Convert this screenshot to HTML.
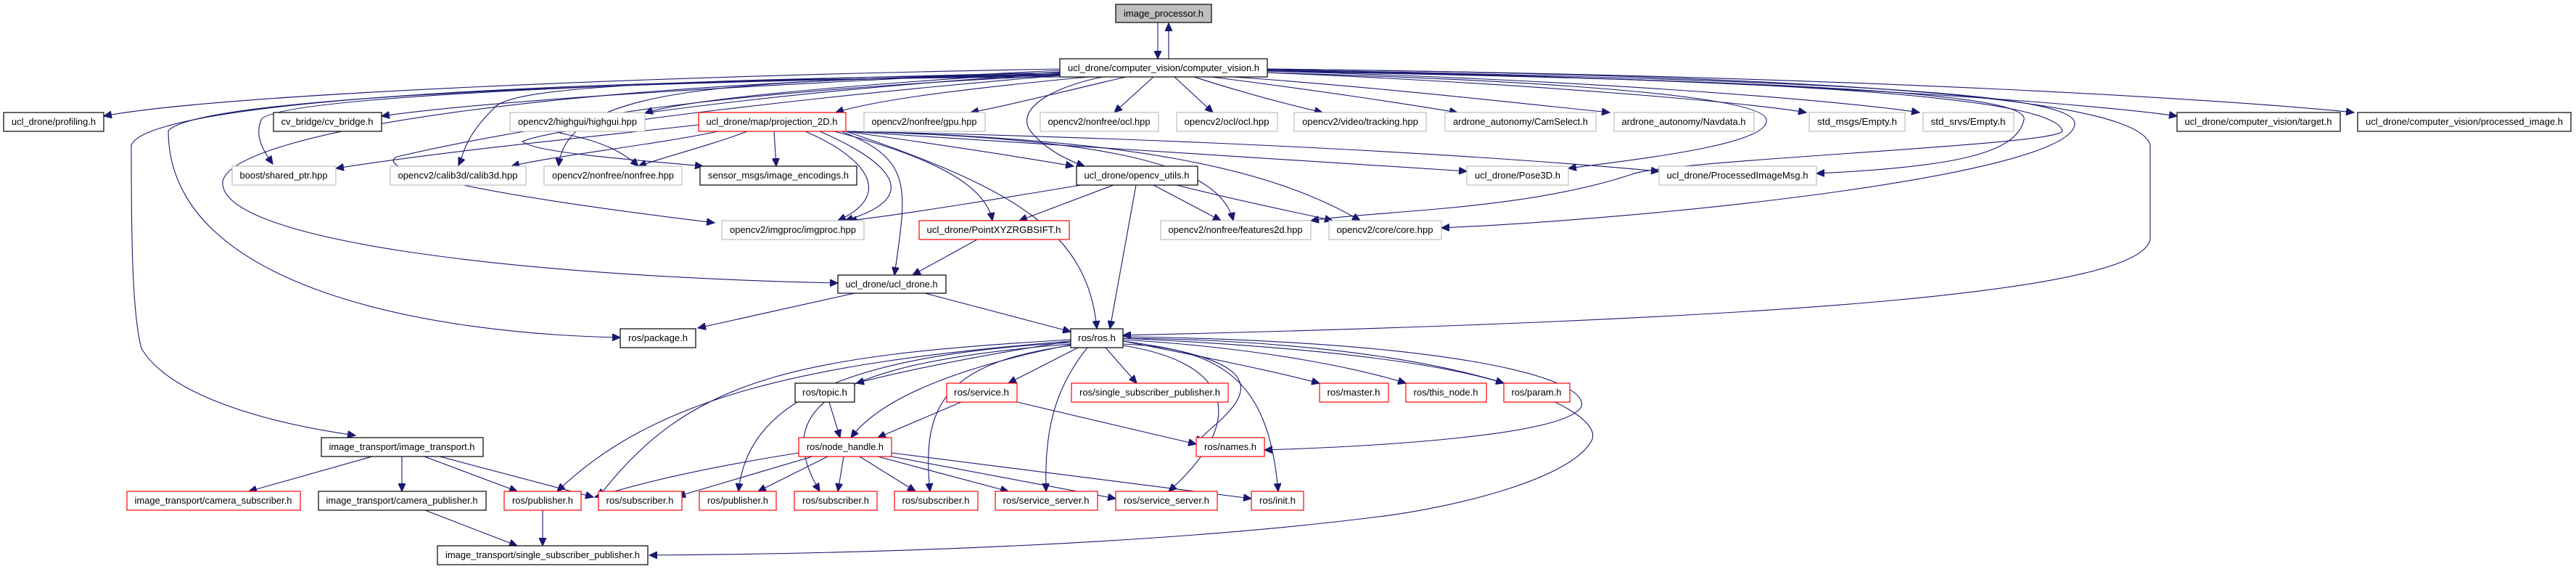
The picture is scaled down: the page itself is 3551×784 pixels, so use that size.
<!DOCTYPE html>
<html><head><meta charset="utf-8"><style>
html,body{margin:0;padding:0;background:#fff;}
svg{display:block;}
text{font-family:"Liberation Sans Narrow","Liberation Sans",sans-serif;font-size:13px;fill:#000;}
.b{fill:#fff;stroke:#000;stroke-width:1.2}
.g{fill:#fff;stroke:#bfbfbf;stroke-width:1.2}
.r{fill:#fff;stroke:#ff0000;stroke-width:1.2}
.f{fill:#bfbfbf;stroke:#000;stroke-width:1.2}
path{fill:none;stroke:#191970;stroke-width:1.1}
</style></head><body>
<svg width="3551" height="784" viewBox="0 0 3551 784" xmlns="http://www.w3.org/2000/svg">
<defs><marker id="a" markerUnits="userSpaceOnUse" markerWidth="12" markerHeight="10" refX="11" refY="5" orient="auto"><path d="M0,0 L11,5 L0,10 Z" style="fill:#191970;stroke:#191970"/></marker></defs>
<g marker-end="url(#a)">
<path d="M1596,31 L1596,81"/>
<path d="M1611,81 L1611,32"/>
<path d="M1461,95 C900,105 300,130 143,160"/>
<path d="M1461,97 C1100,115 700,135 526,160"/>
<path d="M1461,99 C1200,115 950,135 889,156"/>
<path d="M1461,100 C1000,110 380,130 360,165 C350,190 365,210 376,226"/>
<path d="M1461,102 C900,110 700,120 680,150 C640,190 640,210 632,228"/>
<path d="M1461,103 C1000,110 780,120 770,229"/>
<path d="M1461,104 C1000,125 700,170 780,185 C830,195 860,210 880,229"/>
<path d="M1500,106 C1300,125 1200,140 1152,155"/>
<path d="M1552,106 C1450,130 1390,145 1338,155"/>
<path d="M1590,106 L1536,155"/>
<path d="M1619,106 L1672,155"/>
<path d="M1646,106 C1720,130 1780,145 1823,155"/>
<path d="M1670,106 C1820,125 1950,145 2009,155"/>
<path d="M1700,106 C1900,120 2120,145 2219,155"/>
<path d="M1747,100 C2100,115 2400,140 2490,155"/>
<path d="M1747,98 C2200,110 2550,140 2646,155"/>
<path d="M1747,96 C2500,110 2900,145 3001,160"/>
<path d="M1747,95 C2600,105 3100,140 3245,155"/>
<path d="M1520,106 C1450,120 1400,150 1420,180 C1440,205 1470,220 1495,229"/>
<path d="M1747,100 C2100,110 2430,130 2435,165 C2440,200 2250,220 2162,232"/>
<path d="M1747,98 C2400,110 2800,125 2790,165 C2780,210 2700,230 2504,239"/>
<path d="M1747,97 C2500,110 2830,135 2843,180 C2850,200 2300,220 2250,240 C2100,290 1900,290 1807,304"/>
<path d="M1747,96 C2550,110 2860,130 2860,170 C2860,240 2300,300 1987,314"/>
<path d="M1747,95 C2600,105 2950,140 2964,200 C2964,260 2964,330 2964,330 C2950,400 2500,440 1548,462"/>
<path d="M1461,104 C700,115 270,140 232,180 C232,400 600,460 855,465"/>
<path d="M1461,106 C600,110 200,150 181,200 C181,300 181,430 195,480 C230,540 350,580 490,600"/>
<path d="M1461,102 C800,110 320,180 307,250 C300,330 700,380 1155,390"/>
<path d="M1461,101 C1000,130 700,180 547,216 C520,230 600,260 985,307"/>
<path d="M1461,104 C1150,130 760,175 720,195 C740,212 900,222 969,229"/>
<path d="M963,172 C800,190 600,210 463,232"/>
<path d="M990,181 C900,200 760,215 705,229"/>
<path d="M1030,181 C980,200 920,215 880,229"/>
<path d="M1067,181 L1070,229"/>
<path d="M1110,181 C1200,220 1230,270 1155,304"/>
<path d="M1130,181 C1220,220 1280,270 1165,304"/>
<path d="M1150,181 C1300,220 1360,260 1368,304"/>
<path d="M1160,181 C1260,220 1250,260 1233,379"/>
<path d="M1166,181 C1300,200 1400,215 1480,229"/>
<path d="M1166,181 C1400,260 1500,320 1512,453"/>
<path d="M1166,181 C1500,200 1800,220 2022,236"/>
<path d="M1166,181 C1600,190 2000,210 2287,236"/>
<path d="M1166,181 C1500,190 1680,220 1700,304"/>
<path d="M1166,181 C1550,190 1750,230 1875,304"/>
<path d="M1490,255 C1400,270 1250,295 1170,304"/>
<path d="M1535,255 L1405,304"/>
<path d="M1590,255 L1683,304"/>
<path d="M1622,255 C1720,280 1800,295 1837,304"/>
<path d="M1566,255 L1530,453"/>
<path d="M1347,330 L1258,379"/>
<path d="M1178,404 L962,452"/>
<path d="M1275,404 L1476,457"/>
<path d="M1476,470 C1350,490 1250,510 1180,528"/>
<path d="M1486,479 L1390,528"/>
<path d="M1524,479 L1567,528"/>
<path d="M1548,470 C1650,490 1750,510 1819,528"/>
<path d="M1548,468 C1750,480 1880,510 1938,528"/>
<path d="M1548,466 C1850,480 2000,505 2073,528"/>
<path d="M1548,470 C1700,490 1730,520 1700,560 C1680,585 1660,595 1649,612"/>
<path d="M1548,474 C1700,480 1750,540 1762,677"/>
<path d="M1476,475 C1350,500 1220,540 1173,603"/>
<path d="M1476,470 C1100,500 900,550 768,677"/>
<path d="M1476,468 C1100,490 950,520 825,685"/>
<path d="M1476,472 C1150,490 1030,560 1018,677"/>
<path d="M1476,474 C1150,500 1060,560 1130,677"/>
<path d="M1476,476 C1300,500 1270,560 1282,677"/>
<path d="M1499,479 C1450,540 1440,600 1442,677"/>
<path d="M1548,476 C1700,500 1720,580 1611,677"/>
<path d="M1548,466 C2000,470 2210,560 2195,605 C2170,660 2000,700 1900,712 C1600,750 1200,763 895,765"/>
<path d="M1548,464 C2000,470 2190,520 2180,560 C2160,600 1900,615 1743,620"/>
<path d="M1143,554 L1158,603"/>
<path d="M1325,554 L1210,603"/>
<path d="M1402,554 L1649,612"/>
<path d="M1101,624 C1000,640 900,660 820,685"/>
<path d="M1120,629 L934,684"/>
<path d="M1141,629 L1045,677"/>
<path d="M1163,629 L1155,677"/>
<path d="M1185,629 L1262,677"/>
<path d="M1210,629 L1390,677"/>
<path d="M1229,629 L1538,687"/>
<path d="M1229,624 L1725,687"/>
<path d="M513,629 L343,677"/>
<path d="M554,629 L554,677"/>
<path d="M585,629 L713,677"/>
<path d="M606,629 L818,685"/>
<path d="M586,703 L713,752"/>
<path d="M748,703 L748,752"/>
</g>
<g>
<rect class="f" x="1538" y="6" width="132" height="25"/><text x="1604" y="23" text-anchor="middle" textLength="110" lengthAdjust="spacingAndGlyphs">image_processor.h</text>
<rect class="b" x="1461" y="81" width="286" height="25"/><text x="1604" y="98" text-anchor="middle" textLength="264" lengthAdjust="spacingAndGlyphs">ucl_drone/computer_vision/computer_vision.h</text>
<rect class="b" x="5" y="155" width="138" height="26"/><text x="74" y="172" text-anchor="middle" textLength="116" lengthAdjust="spacingAndGlyphs">ucl_drone/profiling.h</text>
<rect class="b" x="377" y="155" width="149" height="26"/><text x="451" y="172" text-anchor="middle" textLength="127" lengthAdjust="spacingAndGlyphs">cv_bridge/cv_bridge.h</text>
<rect class="g" x="703" y="155" width="186" height="26"/><text x="796" y="172" text-anchor="middle" textLength="164" lengthAdjust="spacingAndGlyphs">opencv2/highgui/highgui.hpp</text>
<rect class="r" x="963" y="155" width="203" height="26"/><text x="1064" y="172" text-anchor="middle" textLength="181" lengthAdjust="spacingAndGlyphs">ucl_drone/map/projection_2D.h</text>
<rect class="g" x="1191" y="155" width="167" height="26"/><text x="1274" y="172" text-anchor="middle" textLength="145" lengthAdjust="spacingAndGlyphs">opencv2/nonfree/gpu.hpp</text>
<rect class="g" x="1434" y="155" width="163" height="26"/><text x="1515" y="172" text-anchor="middle" textLength="141" lengthAdjust="spacingAndGlyphs">opencv2/nonfree/ocl.hpp</text>
<rect class="g" x="1622" y="155" width="139" height="26"/><text x="1691" y="172" text-anchor="middle" textLength="117" lengthAdjust="spacingAndGlyphs">opencv2/ocl/ocl.hpp</text>
<rect class="g" x="1784" y="155" width="182" height="26"/><text x="1875" y="172" text-anchor="middle" textLength="160" lengthAdjust="spacingAndGlyphs">opencv2/video/tracking.hpp</text>
<rect class="g" x="1992" y="155" width="208" height="26"/><text x="2096" y="172" text-anchor="middle" textLength="186" lengthAdjust="spacingAndGlyphs">ardrone_autonomy/CamSelect.h</text>
<rect class="g" x="2225" y="155" width="193" height="26"/><text x="2321" y="172" text-anchor="middle" textLength="171" lengthAdjust="spacingAndGlyphs">ardrone_autonomy/Navdata.h</text>
<rect class="g" x="2494" y="155" width="132" height="26"/><text x="2560" y="172" text-anchor="middle" textLength="110" lengthAdjust="spacingAndGlyphs">std_msgs/Empty.h</text>
<rect class="g" x="2651" y="155" width="125" height="26"/><text x="2713" y="172" text-anchor="middle" textLength="103" lengthAdjust="spacingAndGlyphs">std_srvs/Empty.h</text>
<rect class="b" x="3001" y="155" width="225" height="26"/><text x="3113" y="172" text-anchor="middle" textLength="203" lengthAdjust="spacingAndGlyphs">ucl_drone/computer_vision/target.h</text>
<rect class="b" x="3250" y="155" width="294" height="26"/><text x="3397" y="172" text-anchor="middle" textLength="272" lengthAdjust="spacingAndGlyphs">ucl_drone/computer_vision/processed_image.h</text>
<rect class="g" x="320" y="229" width="143" height="26"/><text x="391" y="246" text-anchor="middle" textLength="121" lengthAdjust="spacingAndGlyphs">boost/shared_ptr.hpp</text>
<rect class="g" x="538" y="229" width="187" height="26"/><text x="631" y="246" text-anchor="middle" textLength="165" lengthAdjust="spacingAndGlyphs">opencv2/calib3d/calib3d.hpp</text>
<rect class="g" x="750" y="229" width="190" height="26"/><text x="845" y="246" text-anchor="middle" textLength="168" lengthAdjust="spacingAndGlyphs">opencv2/nonfree/nonfree.hpp</text>
<rect class="b" x="965" y="229" width="216" height="26"/><text x="1073" y="246" text-anchor="middle" textLength="194" lengthAdjust="spacingAndGlyphs">sensor_msgs/image_encodings.h</text>
<rect class="b" x="1484" y="229" width="167" height="26"/><text x="1567" y="246" text-anchor="middle" textLength="145" lengthAdjust="spacingAndGlyphs">ucl_drone/opencv_utils.h</text>
<rect class="g" x="2022" y="229" width="140" height="26"/><text x="2092" y="246" text-anchor="middle" textLength="118" lengthAdjust="spacingAndGlyphs">ucl_drone/Pose3D.h</text>
<rect class="g" x="2287" y="229" width="217" height="26"/><text x="2395" y="246" text-anchor="middle" textLength="195" lengthAdjust="spacingAndGlyphs">ucl_drone/ProcessedImageMsg.h</text>
<rect class="g" x="995" y="304" width="196" height="26"/><text x="1093" y="321" text-anchor="middle" textLength="174" lengthAdjust="spacingAndGlyphs">opencv2/imgproc/imgproc.hpp</text>
<rect class="r" x="1267" y="304" width="207" height="26"/><text x="1370" y="321" text-anchor="middle" textLength="185" lengthAdjust="spacingAndGlyphs">ucl_drone/PointXYZRGBSIFT.h</text>
<rect class="g" x="1600" y="304" width="207" height="26"/><text x="1703" y="321" text-anchor="middle" textLength="185" lengthAdjust="spacingAndGlyphs">opencv2/nonfree/features2d.hpp</text>
<rect class="g" x="1832" y="304" width="155" height="26"/><text x="1909" y="321" text-anchor="middle" textLength="133" lengthAdjust="spacingAndGlyphs">opencv2/core/core.hpp</text>
<rect class="b" x="1155" y="379" width="149" height="25"/><text x="1229" y="396" text-anchor="middle" textLength="127" lengthAdjust="spacingAndGlyphs">ucl_drone/ucl_drone.h</text>
<rect class="b" x="855" y="453" width="104" height="26"/><text x="907" y="470" text-anchor="middle" textLength="82" lengthAdjust="spacingAndGlyphs">ros/package.h</text>
<rect class="b" x="1476" y="453" width="72" height="26"/><text x="1512" y="470" text-anchor="middle" textLength="52" lengthAdjust="spacingAndGlyphs">ros/ros.h</text>
<rect class="b" x="1096" y="528" width="82" height="26"/><text x="1137" y="545" text-anchor="middle" textLength="62" lengthAdjust="spacingAndGlyphs">ros/topic.h</text>
<rect class="r" x="1305" y="528" width="97" height="26"/><text x="1353" y="545" text-anchor="middle" textLength="76" lengthAdjust="spacingAndGlyphs">ros/service.h</text>
<rect class="r" x="1477" y="528" width="216" height="26"/><text x="1585" y="545" text-anchor="middle" textLength="194" lengthAdjust="spacingAndGlyphs">ros/single_subscriber_publisher.h</text>
<rect class="r" x="1819" y="528" width="95" height="26"/><text x="1866" y="545" text-anchor="middle" textLength="73" lengthAdjust="spacingAndGlyphs">ros/master.h</text>
<rect class="r" x="1938" y="528" width="111" height="26"/><text x="1993" y="545" text-anchor="middle" textLength="89" lengthAdjust="spacingAndGlyphs">ros/this_node.h</text>
<rect class="r" x="2073" y="528" width="91" height="26"/><text x="2118" y="545" text-anchor="middle" textLength="69" lengthAdjust="spacingAndGlyphs">ros/param.h</text>
<rect class="b" x="443" y="603" width="223" height="26"/><text x="554" y="620" text-anchor="middle" textLength="201" lengthAdjust="spacingAndGlyphs">image_transport/image_transport.h</text>
<rect class="r" x="1101" y="603" width="128" height="26"/><text x="1165" y="620" text-anchor="middle" textLength="106" lengthAdjust="spacingAndGlyphs">ros/node_handle.h</text>
<rect class="r" x="1649" y="603" width="94" height="26"/><text x="1696" y="620" text-anchor="middle" textLength="72" lengthAdjust="spacingAndGlyphs">ros/names.h</text>
<rect class="r" x="175" y="677" width="239" height="26"/><text x="294" y="694" text-anchor="middle" textLength="217" lengthAdjust="spacingAndGlyphs">image_transport/camera_subscriber.h</text>
<rect class="b" x="439" y="677" width="231" height="26"/><text x="554" y="694" text-anchor="middle" textLength="209" lengthAdjust="spacingAndGlyphs">image_transport/camera_publisher.h</text>
<rect class="r" x="695" y="677" width="106" height="26"/><text x="748" y="694" text-anchor="middle" textLength="84" lengthAdjust="spacingAndGlyphs">ros/publisher.h</text>
<rect class="r" x="825" y="677" width="115" height="26"/><text x="882" y="694" text-anchor="middle" textLength="93" lengthAdjust="spacingAndGlyphs">ros/subscriber.h</text>
<rect class="r" x="964" y="677" width="106" height="26"/><text x="1017" y="694" text-anchor="middle" textLength="84" lengthAdjust="spacingAndGlyphs">ros/publisher.h</text>
<rect class="r" x="1095" y="677" width="114" height="26"/><text x="1152" y="694" text-anchor="middle" textLength="92" lengthAdjust="spacingAndGlyphs">ros/subscriber.h</text>
<rect class="r" x="1233" y="677" width="115" height="26"/><text x="1290" y="694" text-anchor="middle" textLength="93" lengthAdjust="spacingAndGlyphs">ros/subscriber.h</text>
<rect class="r" x="1372" y="677" width="141" height="26"/><text x="1442" y="694" text-anchor="middle" textLength="119" lengthAdjust="spacingAndGlyphs">ros/service_server.h</text>
<rect class="r" x="1538" y="677" width="140" height="26"/><text x="1608" y="694" text-anchor="middle" textLength="118" lengthAdjust="spacingAndGlyphs">ros/service_server.h</text>
<rect class="r" x="1725" y="677" width="72" height="26"/><text x="1761" y="694" text-anchor="middle" textLength="50" lengthAdjust="spacingAndGlyphs">ros/init.h</text>
<rect class="b" x="603" y="752" width="290" height="26"/><text x="748" y="769" text-anchor="middle" textLength="268" lengthAdjust="spacingAndGlyphs">image_transport/single_subscriber_publisher.h</text>
</g>
</svg>
</body></html>
